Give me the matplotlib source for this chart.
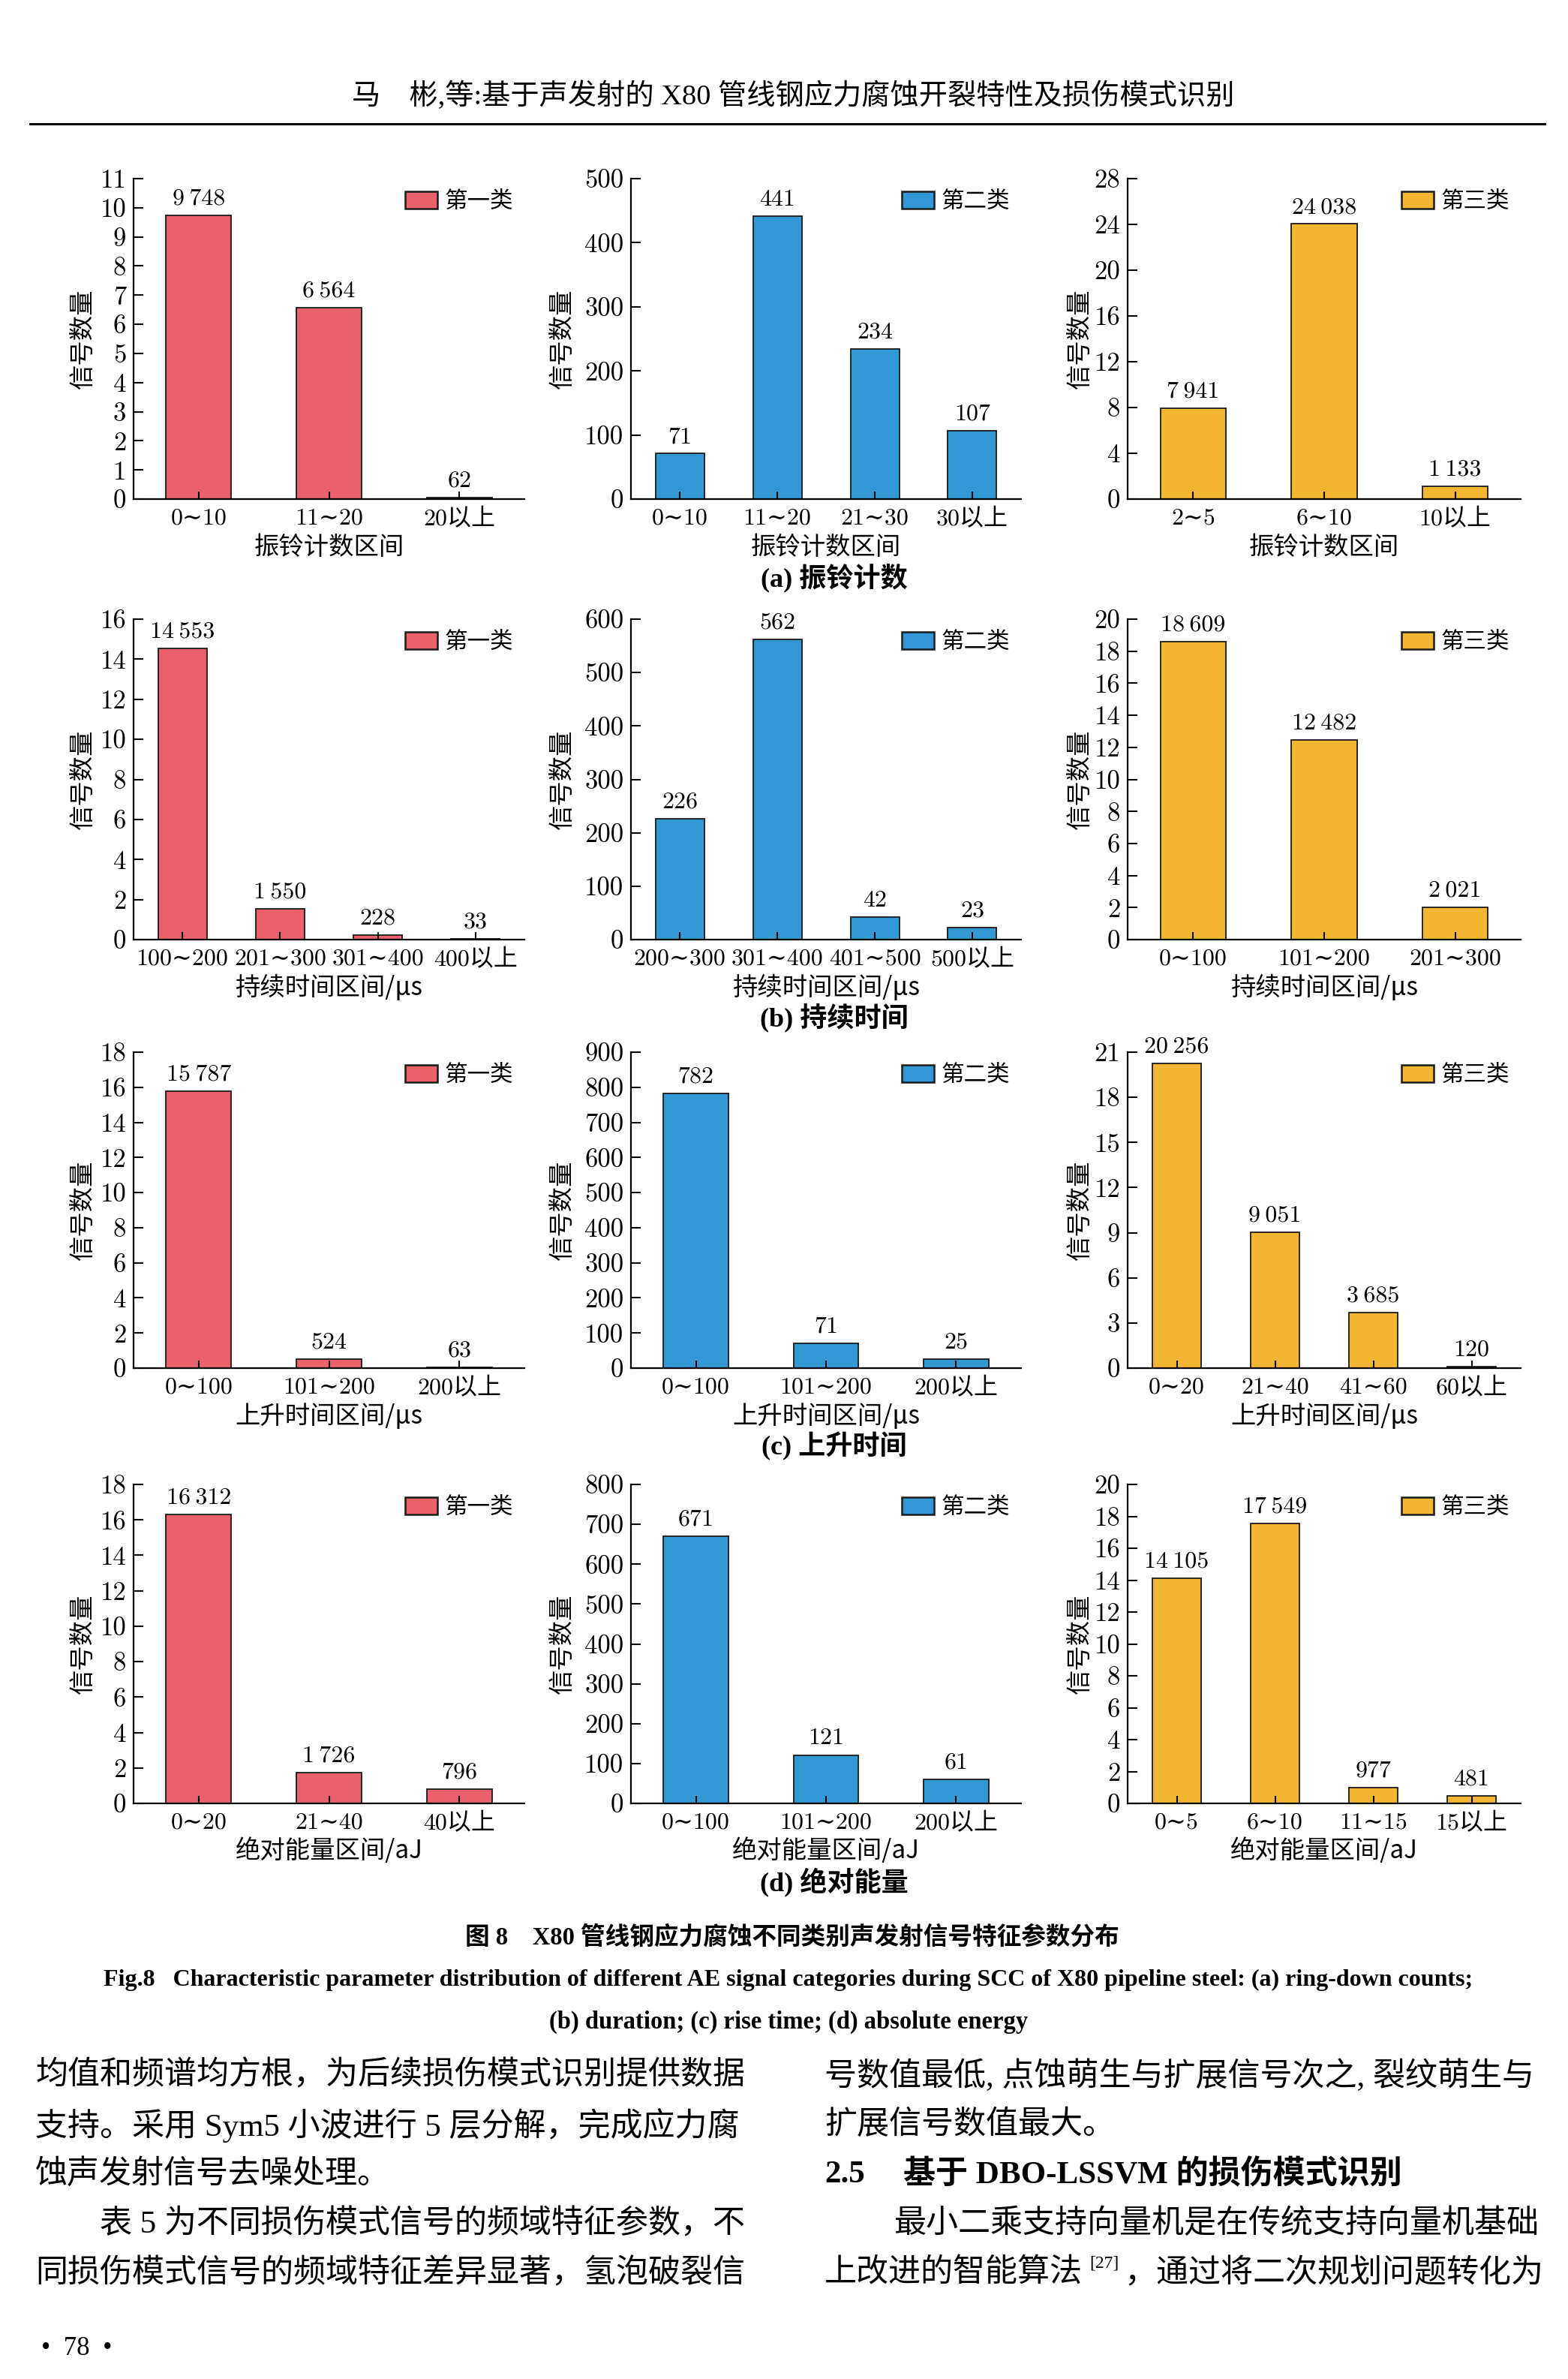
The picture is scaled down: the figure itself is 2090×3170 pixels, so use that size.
import matplotlib
matplotlib.use('Agg')
import matplotlib.pyplot as plt
from matplotlib.patches import Patch
from matplotlib.font_manager import FontProperties
from matplotlib.lines import Line2D

plt.rcParams['axes.unicode_minus'] = False

# ---- data ----
cats_a1 = ['0~10', '11~20', '20以上']
cnt_a1 = [9748, 6564, 62]
cats_a2 = ['0~10', '11~20', '21~30', '30以上']
cnt_a2 = [71, 441, 234, 107]
cats_a3 = ['2~5', '6~10', '10以上']
cnt_a3 = [7941, 24038, 1133]

cats_b1 = ['100~200', '201~300', '301~400', '400以上']
cnt_b1 = [14553, 1550, 228, 33]
cats_b2 = ['200~300', '301~400', '401~500', '500以上']
cnt_b2 = [226, 562, 42, 23]
cats_b3 = ['0~100', '101~200', '201~300']
cnt_b3 = [18609, 12482, 2021]

cats_c1 = ['0~100', '101~200', '200以上']
cnt_c1 = [15787, 524, 63]
cats_c2 = ['0~100', '101~200', '200以上']
cnt_c2 = [782, 71, 25]
cats_c3 = ['0~20', '21~40', '41~60', '60以上']
cnt_c3 = [20256, 9051, 3685, 120]

cats_d1 = ['0~20', '21~40', '40以上']
cnt_d1 = [16312, 1726, 796]
cats_d2 = ['0~100', '101~200', '200以上']
cnt_d2 = [671, 121, 61]
cats_d3 = ['0~5', '6~10', '11~15', '15以上']
cnt_d3 = [14105, 17549, 977, 481]

class_names = ['第一类', '第二类', '第三类']
class_colors = ['#E8616B', '#3399D4', '#F2B632']
class_scale = [1000, 1, 1000]

row_xlabels = ['振铃计数区间', '持续时间区间/μs', '上升时间区间/μs', '绝对能量区间/aJ']
row_captions = ['(a) 振铃计数', '(b) 持续时间', '(c) 上升时间', '(d) 绝对能量']

NUM = ['cmr10', 'DejaVu Serif', 'Noto Sans CJK SC']
CJK = ['Noto Sans CJK SC', 'DejaVu Sans']
SER = ['Liberation Serif', 'Noto Sans CJK SC']

W, H = 2090, 3170
fig = plt.figure(figsize=(W / 100, H / 100), dpi=100)

col_px = [(178, 699), (841, 1361), (1503, 2027)]
ylab_off = [68, 92, 64]  # px left of the spine
row_px = [(238, 665), (825, 1252), (1402, 1823), (1978, 2403)]
cap_y = [770, 1356, 1927, 2508]


def fmt(n):
    return f'{n:,}'.replace(',', '\u2009')


def tilde(s):
    # cmr10 draws "~" as a raised accent, so use the mid-height form
    return s.replace('~', '\u223c')


def panel(r, c, cats, counts, ytop, ystep):
    x0, x1 = col_px[c]
    y0, y1 = row_px[r]
    ax = fig.add_axes([x0 / W, 1 - y1 / H, (x1 - x0) / W, (y1 - y0) / H])
    vals = [v / class_scale[c] for v in counts]
    xs = list(range(len(cats)))
    ax.bar(xs, vals, width=0.5, color=class_colors[c], edgecolor='#1a1a1a', linewidth=1.3)
    for xi, v, n in zip(xs, vals, counts):
        ax.annotate(fmt(n), (xi, v), xytext=(0, 6), textcoords='offset points',
                    ha='center', va='bottom', fontsize=23, family=NUM,
                    annotation_clip=False)
    ax.set_xlim(-0.5, len(cats) - 0.5)
    ax.set_ylim(0, ytop)
    ax.set_yticks(list(range(0, ytop + 1, ystep)))
    ax.set_xticks(xs)
    ax.set_xticklabels([tilde(s) for s in cats], family=NUM, fontsize=23)
    for lb in ax.get_yticklabels():
        lb.set_fontfamily(NUM)
        lb.set_fontsize(25)
    ax.tick_params(direction='in', length=9, width=1.5, pad=7)
    ax.tick_params(axis='x', length=7, pad=9)
    for s in ['top', 'right']:
        ax.spines[s].set_visible(False)
    for s in ['left', 'bottom']:
        ax.spines[s].set_linewidth(1.6)
    ax.set_ylabel('信号数量', family=CJK, fontsize=24, va='center')
    ax.yaxis.set_label_coords(-ylab_off[c] / (x1 - x0), 0.5)
    ax.set_xlabel(row_xlabels[r], family=CJK, fontsize=24, va='center')
    ax.xaxis.set_label_coords(0.5, -64 / (y1 - y0))
    h = Patch(facecolor=class_colors[c], edgecolor='#1a1a1a', linewidth=1.8, label=class_names[c])
    ax.legend(handles=[h], loc='upper right', bbox_to_anchor=(1.0, 1.0), frameon=False,
              prop=FontProperties(family=CJK, size=22), handlelength=1.4, handleheight=0.8,
              handletextpad=0.3, borderaxespad=0.1)
    return ax


panel(0, 0, cats_a1, cnt_a1, 11, 1)
panel(0, 1, cats_a2, cnt_a2, 500, 100)
panel(0, 2, cats_a3, cnt_a3, 28, 4)
panel(1, 0, cats_b1, cnt_b1, 16, 2)
panel(1, 1, cats_b2, cnt_b2, 600, 100)
panel(1, 2, cats_b3, cnt_b3, 20, 2)
panel(2, 0, cats_c1, cnt_c1, 18, 2)
panel(2, 1, cats_c2, cnt_c2, 900, 100)
panel(2, 2, cats_c3, cnt_c3, 21, 3)
panel(3, 0, cats_d1, cnt_d1, 18, 2)
panel(3, 1, cats_d2, cnt_d2, 800, 100)
panel(3, 2, cats_d3, cnt_d3, 20, 2)

for cy, cap in zip(cap_y, row_captions):
    fig.text(1112 / W, 1 - cy / H, cap, ha='center', va='center', family=SER,
             fontsize=26, weight='bold')

# page header
fig.text(1057 / W, 1 - 128 / H, '马\u3000彬,等:基于声发射的 X80 管线钢应力腐蚀开裂特性及损伤模式识别',
         ha='center', va='center', family=SER, fontsize=27.5)
fig.add_artist(Line2D([40 / W, 2059 / W], [1 - 165 / H, 1 - 165 / H], color='black', lw=2.2))

# figure caption
fig.text(1056 / W, 1 - 2582 / H, '图 8\u3000X80 管线钢应力腐蚀不同类别声发射信号特征参数分布',
         ha='center', va='center', family=SER, fontsize=23.5, weight='bold')
fig.text(1051 / W, 1 - 2638 / H,
         'Fig.8   Characteristic parameter distribution of different AE signal categories '
         'during SCC of X80 pipeline steel: (a) ring-down counts;',
         ha='center', va='center', family=SER, fontsize=23, weight='bold')
fig.text(1051 / W, 1 - 2694 / H, '(b) duration; (c) rise time; (d) absolute energy',
         ha='center', va='center', family=SER, fontsize=23.5, weight='bold')

# body text
body_y = [2766, 2832, 2898, 2964, 3030]
left_lines = [
    (47, '均值和频谱均方根，为后续损伤模式识别提供数据'),
    (47, '支持。采用 Sym5 小波进行 5 层分解，完成应力腐'),
    (47, '蚀声发射信号去噪处理。'),
    (133, '表 5 为不同损伤模式信号的频域特征参数，不'),
    (47, '同损伤模式信号的频域特征差异显著，氢泡破裂信'),
]
for (lx, t), yy in zip(left_lines, body_y):
    fig.text(lx / W, 1 - yy / H, t, ha='left', va='center', family=SER, fontsize=31)

fig.text(1099 / W, 1 - body_y[0] / H, '号数值最低, 点蚀萌生与扩展信号次之, 裂纹萌生与',
         ha='left', va='center', family=SER, fontsize=31)
fig.text(1099 / W, 1 - body_y[1] / H, '扩展信号数值最大。',
         ha='left', va='center', family=SER, fontsize=31)
fig.text(1099 / W, 1 - body_y[2] / H, '2.5', ha='left', va='center', family=SER,
         fontsize=31, weight='bold')
fig.text(1204 / W, 1 - body_y[2] / H, '基于 DBO-LSSVM 的损伤模式识别', ha='left', va='center',
         family=SER, fontsize=31, weight='bold')
fig.text(1192 / W, 1 - body_y[3] / H, '最小二乘支持向量机是在传统支持向量机基础',
         ha='left', va='center', family=SER, fontsize=31)
fig.text(1099 / W, 1 - body_y[4] / H, '上改进的智能算法', ha='left', va='center',
         family=SER, fontsize=31)
fig.text(1452 / W, 1 - (body_y[4] - 14) / H, '[27]', ha='left', va='center',
         family=SER, fontsize=17)
fig.text(2057 / W, 1 - body_y[4] / H, '，通过将二次规划问题转化为', ha='right', va='center',
         family=SER, fontsize=31)

fig.text(55 / W, 1 - 3130 / H, '•  78  •', ha='left', va='center', family=SER, fontsize=25)

fig.savefig('out.png', dpi=100, facecolor='white')
